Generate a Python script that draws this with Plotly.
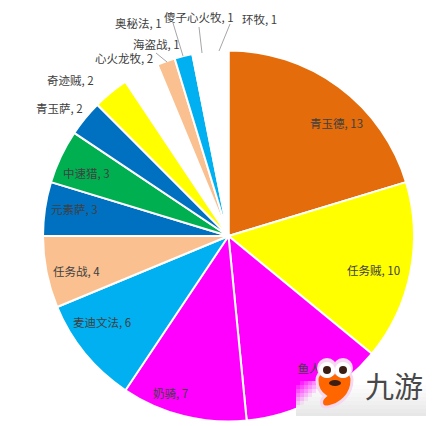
import plotly.graph_objects as go

W = 436
H = 426

labels = ["青玉德", "任务贼", "鱼人", "奶骑", "麦迪文法", "任务战", "元素萨", "中速猎",
          "青玉萨", "奇迹贼", "心火龙牧", "海盗战", "奥秘法", "傻子心火牧", "环牧"]
values = [13, 10, 8, 7, 6, 4, 3, 3, 2, 2, 2, 1, 1, 1, 1]
colors = ["#E46C0A", "#FFFF00", "#FF00FF", "#FF00FF", "#00B0F0", "#FAC090", "#0070C0", "#00B050",
          "#0070C0", "#FFFF00", "#FFFFFF", "#FAC090", "#00B0F0", "#FFFFFF", "#FFFFFF"]

# label centres in pixels, same order as labels
label_x = [336, 373, 315, 170, 102, 76, 74, 86, 59, 70, 124, 156, 138, 199, 259]
label_y = [123, 270, 368, 393, 322, 271, 209, 173, 108, 80, 58, 44, 23, 17, 19]

# leader lines x0, y0, x1, y1 in pixels
leaders = [(156, 53, 167, 62), (173, 23, 183, 56), (199, 27, 202, 53), (230, 24, 219, 51)]

cx = 228.5
cy = 236
r = 185.5

font_size = 11.5


def px(x):
    return x / W


def py(y):
    return 1 - y / H


def box(x0, y0, x1, y1):
    return dict(x=[px(x0), px(x1)], y=[py(y1), py(y0)])


def rect(x0, y0, x1, y1, fill):
    return dict(type="rect", xref="paper", yref="paper", x0=px(x0), x1=px(x1), y0=py(y0), y1=py(y1),
                fillcolor=fill, line=dict(width=0), layer="above")


def circle(x0, y0, x1, y1, fill):
    shape = rect(x0, y0, x1, y1, fill)
    shape["type"] = "circle"
    return shape


def blob(points, fill, edge, edge_width):
    # points is a list of svg commands with pixel pairs
    parts = []
    for cmd, pairs in points:
        parts.append(cmd + " " + " ".join("%.5f,%.5f" % (px(x), py(y)) for x, y in pairs))
    return dict(type="path", xref="paper", yref="paper", path=" ".join(parts) + " Z",
                fillcolor=fill, line=dict(color=edge, width=edge_width), layer="above")


fig = go.Figure()
fig.add_trace(go.Pie(
    labels=labels,
    values=values,
    sort=False,
    direction="clockwise",
    rotation=0,
    textinfo="none",
    marker=dict(colors=colors, line=dict(color="#FFFFFF", width=2)),
    domain=box(cx - r, cy - r, cx + r, cy + r),
    showlegend=False,
))

# this one label sits under the logo, so it has to be drawn in the pie layer
i_fish = labels.index("鱼人")
fig.add_trace(go.Pie(
    labels=[labels[i_fish]],
    values=[values[i_fish]],
    text=["%s, %d" % (labels[i_fish], values[i_fish])],
    textinfo="text",
    textposition="inside",
    insidetextorientation="horizontal",
    insidetextfont=dict(size=font_size, color="#404040", family="Noto Sans CJK SC"),
    marker=dict(colors=["rgba(0,0,0,0)"], line=dict(width=0)),
    domain=box(label_x[i_fish] - 50, label_y[i_fish] - 50, label_x[i_fish] + 50, label_y[i_fish] + 50),
    hoverinfo="skip",
    showlegend=False,
))

annotations = []
for i in range(len(labels)):
    if i == i_fish:
        continue
    annotations.append(dict(
        x=px(label_x[i]), y=py(label_y[i]), xref="paper", yref="paper",
        text="%s, %d" % (labels[i], values[i]), showarrow=False,
        xanchor="center", yanchor="middle",
        font=dict(size=font_size, color="#404040", family="Noto Sans CJK SC"),
    ))

annotations.append(dict(
    x=px(394), y=py(385), xref="paper", yref="paper", text="九游", showarrow=False,
    xanchor="center", yanchor="middle",
    font=dict(size=29, color="#484848", family="Noto Sans CJK SC"),
))

shapes = []
for x0, y0, x1, y1 in leaders:
    shapes.append(dict(type="line", xref="paper", yref="paper", x0=px(x0), y0=py(y0), x1=px(x1), y1=py(y1),
                       line=dict(color="#A6A6A6", width=1), layer="above"))

# watermark backdrop, white going to grey downwards and fading in from the top left
for row in range(9):
    y0 = 381 + row * 4
    grey = 255 - row * 3
    for col in range(8):
        x0 = 296 + col * 4
        alpha = min(1, col * 4 / 30 + row * 4 / 25)
        shapes.append(rect(x0, y0, x0 + 4, min(y0 + 4, 416), "rgba(%d,%d,%d,%.2f)" % (grey, grey, grey, alpha)))
    shapes.append(rect(328, y0, 426, min(y0 + 4, 416), "rgb(%d,%d,%d)" % (grey, grey, grey)))

# mascot
body = [("M", [(317, 380)]),
        ("C", [(317, 364), (352, 364), (352, 380)]),
        ("C", [(352, 395), (340, 405), (328, 407)]),
        ("C", [(320, 408), (320, 400), (325, 396)]),
        ("C", [(319, 392), (317, 386), (317, 380)])]
shapes.append(blob(body, "#FF6600", "#F6D8F0", 3))
shapes.append(circle(317, 358, 337, 378, "#F6D8F0"))
shapes.append(circle(333, 358, 353, 378, "#F6D8F0"))
shapes.append(circle(319, 362, 335, 378, "#FFFFFF"))
shapes.append(circle(335, 362, 351, 378, "#FFFFFF"))
shapes.append(circle(323, 366, 331, 374, "#3C1E14"))
shapes.append(circle(339, 366, 347, 374, "#3C1E14"))
shapes.append(circle(329, 380, 341, 386, "#3C1E14"))

fig.update_layout(
    width=W,
    height=H,
    margin=dict(l=0, r=0, t=0, b=0),
    paper_bgcolor="#FFFFFF",
    plot_bgcolor="#FFFFFF",
    annotations=annotations,
    shapes=shapes,
)

fig.write_html("out.html", config=dict(displayModeBar=False), post_script="document.body.style.margin='0';")
